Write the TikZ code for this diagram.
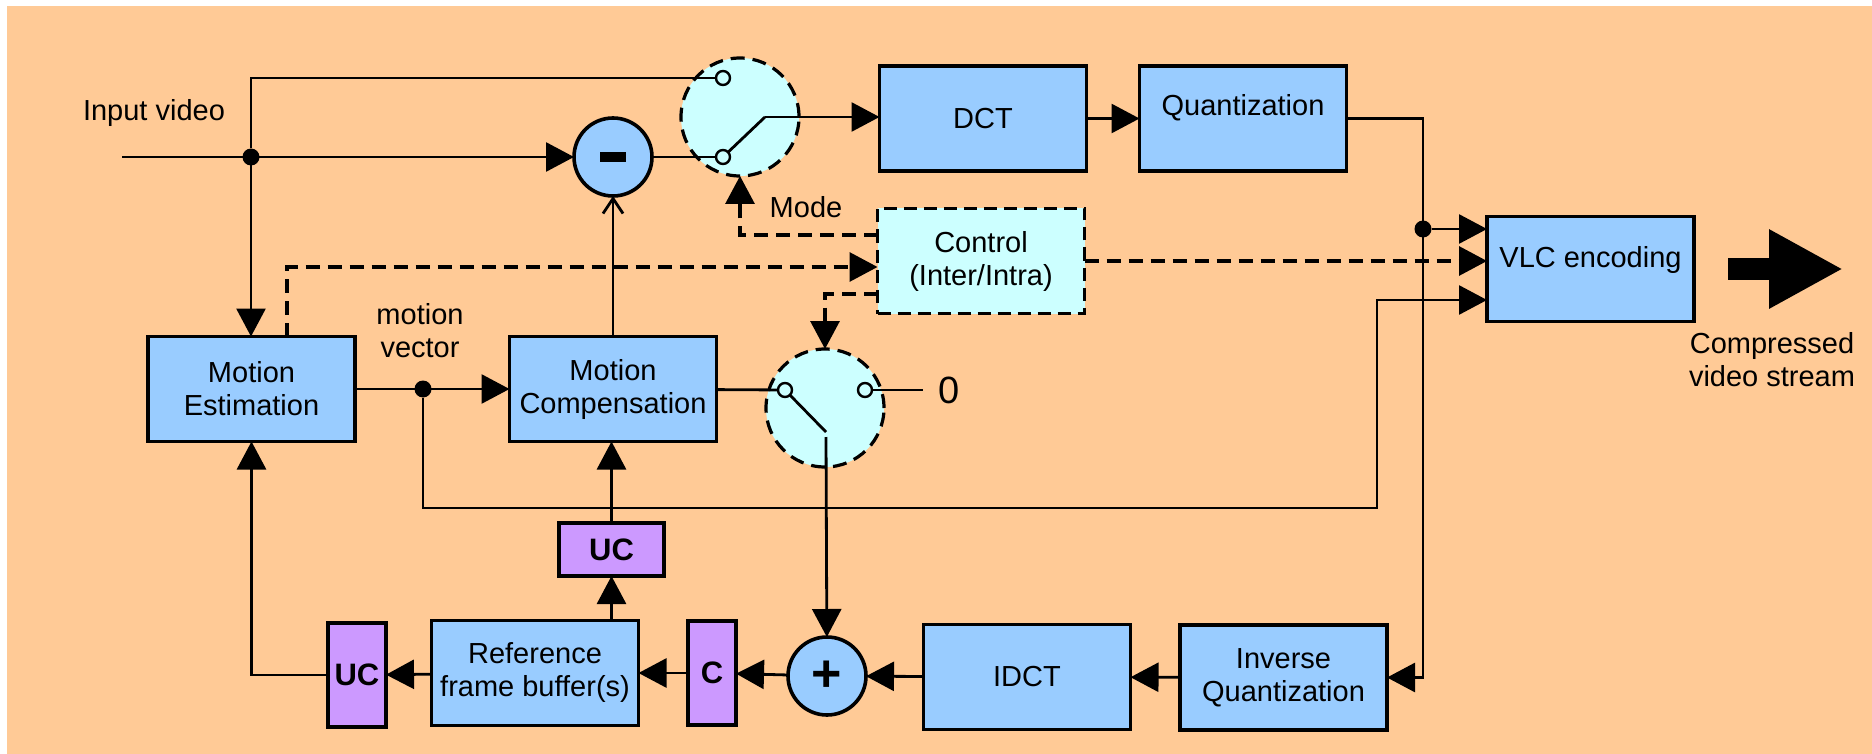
\documentclass[tikz,border=0pt]{standalone}
\usepackage{fontspec}
\setmainfont{Liberation Sans}
\usepackage{tikz}
\usetikzlibrary{arrows.meta}
\usetikzlibrary{positioning}

\definecolor{bgorange}{HTML}{FFCA96}
\definecolor{boxblue}{HTML}{99CCFF}
\definecolor{swcyan}{HTML}{CCFFFF}
\definecolor{ucpurple}{HTML}{CC99FF}

\tikzset{
  block/.style={draw, line width=1.8pt, fill=boxblue, minimum width=103.5pt, minimum height=52.5pt},
  ctrlbox/.style={block, fill=swcyan, dash pattern=on 6.5pt off 3.5pt},
  conv/.style={draw, line width=1.8pt, fill=ucpurple, font=\fontsize{15.5}{17}\selectfont\bfseries},
  adder/.style={draw, circle, line width=1.8pt, fill=boxblue, minimum size=39pt},
  switch/.style={draw, circle, line width=1.6pt, fill=swcyan, dash pattern=on 7pt off 4pt, minimum size=59pt},
  contact/.style={draw, circle, line width=1.2pt, fill=swcyan, minimum size=7pt},
  dot/.style={fill, circle, minimum size=8.5pt},
  ctlline/.style={line width=1.6pt, dash pattern=on 7pt off 4pt},
}

\begin{document}
\begin{tikzpicture}
  [x=0.5pt, y=-0.5pt, line width=1.4pt,
   >={Triangle[length=14pt,width=14.5pt]},
   every node/.style={font=\fontsize{14.5}{16.5}\selectfont, align=center, inner sep=0pt, outer sep=0pt}]
  \useasboundingbox (0,0) rectangle (1872,754);
  \fill[bgorange] (7,6) rectangle (1872,754);

  % coding path
  \node[block] (me) at (251.5,389) {Motion\\Estimation};
  \node[block] (mc) at (613,389) {Motion\\Compensation};
  \node[block] (dct) at (983,118.5) {DCT};
  \node[block, text depth=13.5pt] (quant) at (1243,118.5) {Quantization};
  \node[ctrlbox] (ctl) at (981,261) {Control\\(Inter/Intra)};
  \node[block, text depth=12pt] (vlc) at (1590.5,269) {VLC encoding};

  % reconstruction loop
  \node[block] (iq) at (1283.5,677.5) {Inverse\\Quantization};
  \node[block] (idct) at (1027,677) {IDCT};
  \node[block] (ref) at (535,673) {Reference\\frame buffer(s)};
  \node[conv, minimum width=29pt, minimum height=52pt] (ucl) at (357,675) {UC};
  \node[conv, minimum width=52.5pt, minimum height=26.5pt] (ucm) at (611.5,549.5) {UC};
  \node[conv, minimum width=24pt, minimum height=52pt] (cmp) at (712,673) {C};
  \node[adder, font=\fontsize{26}{26}\selectfont\bfseries] (plus) at (827,676) {+};
  \node[adder] (minus) at (613,157) {\rule[-2.5pt]{13pt}{5pt}};

  % mode switches
  \node[switch] (sw1) at (740,117) {};
  \node[switch] (sw2) at (825,408) {};
  \node[contact] (s1a) at (723,78) {};
  \node[contact] (s1b) at (723,157) {};
  \node[contact] (s2a) at (785,390) {};
  \node[contact] (s2b) at (865,390) {};
  \coordinate (s1p) at (765,117);
  \coordinate (s2p) at (826,432);
  \coordinate (s2o) at (826,437);
  \coordinate (s2z) at (923,390);
  \node[font=\fontsize{19}{19}\selectfont] (zero) at (949,390) {0};

  \coordinate (in) at (122,157);
  \coordinate (mvbus) at (1377,508);
  \node[dot] (j1) at (251,157) {};
  \node[dot] (j2) at (423,389) {};
  \node[dot] (j3) at (1423,229) {};

  \node (inlbl) at (154,113) {Input video};
  \node (mvlbl) at (420,331) {motion\\vector};
  \node (modelbl) at (806,207) {Mode};
  \node (outlbl) at (1772,360) {Compressed\\video stream};

  % forward path
  \draw[->] (in) -- (minus);
  \draw (j1) |- (s1a);
  \draw[->] (j1) -- (j1 |- me.north);
  \draw (minus) -- (s1b);
  \draw (s1b) -- (s1p);
  \draw[->] (s1p) -- (s1p -| dct.west);
  \draw[->] (dct) -- (quant);
  \draw[->] (quant) -- (quant -| j3) -- (j3 |- iq) -- (iq);
  \draw[->] (j3) -- (j3 -| vlc.west);
  \draw[ctlline, ->] (ctl) -- (ctl -| vlc.west);
  \draw[->] (j2) |- (mvbus) |- ([yshift=-15.5pt]vlc.west);

  % prediction
  \draw[->] (me) -- (mc);
  \draw[-{Straight Barb[length=7.5pt,width=10pt]}] (mc) -- (minus);
  \draw (mc) -- (s2a);
  \draw (s2a) -- (s2p);
  \draw (s2b) -- (s2z);
  \draw[->] (s2o) -- (plus);

  % reconstruction
  \draw[->] (iq) -- (idct);
  \draw[->] (idct) -- (plus);
  \draw[->] (plus) -- (cmp);
  \draw[->] (cmp) -- (ref);
  \draw[->] (ref) -- (ucl);
  \draw[->] (ucl) -| (me);
  \draw[->] (ucm |- ref.north) -- (ucm);
  \draw[->] (ucm) -- (ucm |- mc.south);

  % control signals
  \draw[ctlline, ->] ([xshift=17.75pt]me.north) |- ([yshift=-3pt]ctl.west);
  \draw[ctlline, ->] ([yshift=13pt]ctl.west) -| (sw1);
  \draw[ctlline, ->] ([yshift=-16.5pt]ctl.west) -| (sw2);

  % output stream
  \coordinate (outa) at (1728,269);
  \coordinate (outb) at (1843,269);
  \draw[line width=11pt, -{Triangle[length=37pt,width=37pt]}] (outa) -- (outb);
\end{tikzpicture}
\end{document}
